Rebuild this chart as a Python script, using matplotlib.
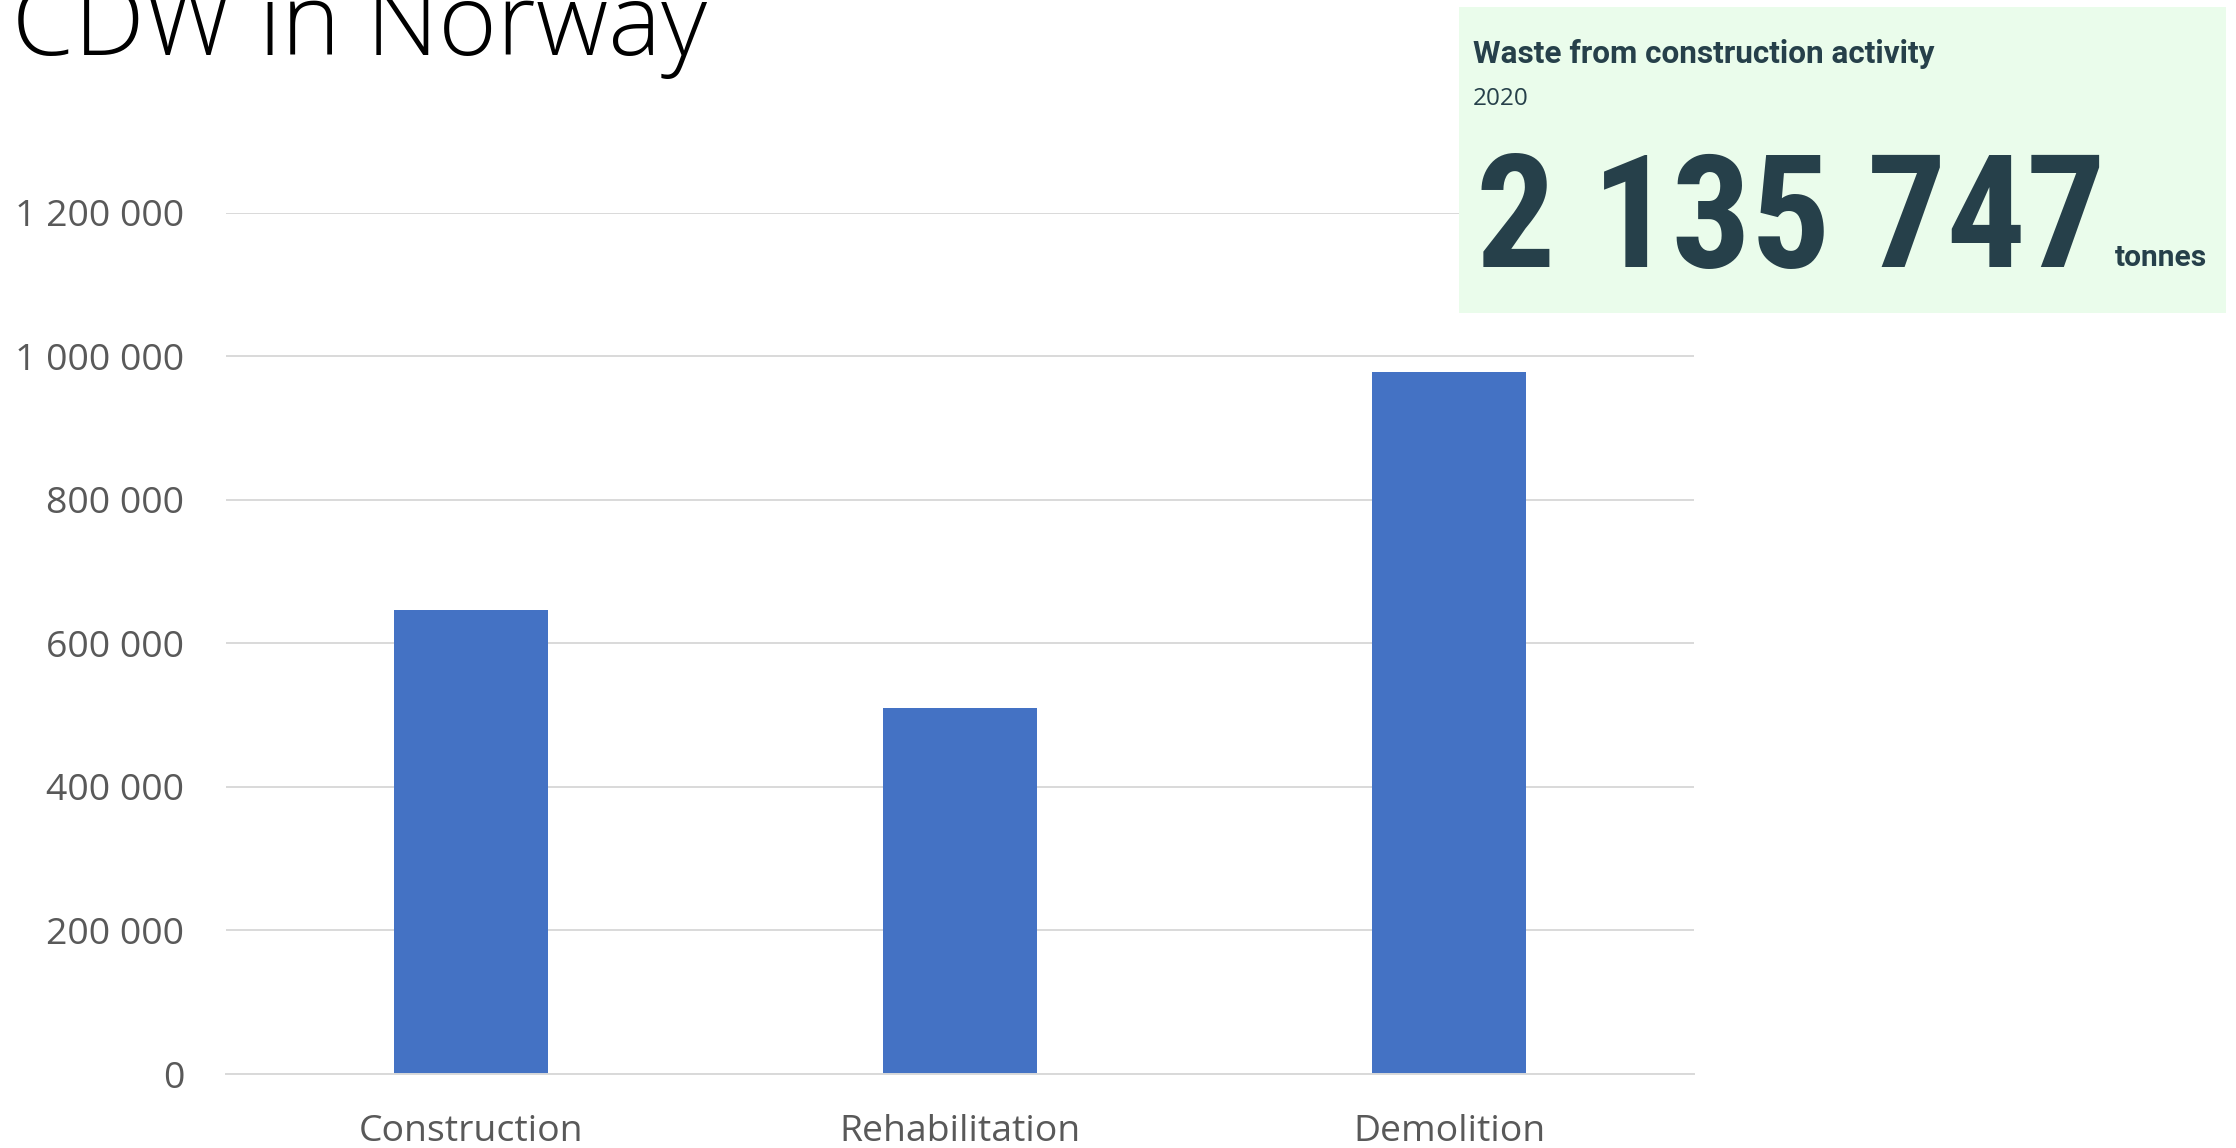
import matplotlib
matplotlib.use("Agg")
import matplotlib.pyplot as plt
from matplotlib import font_manager
from matplotlib.font_manager import FontProperties
from matplotlib.patches import Rectangle
from matplotlib.ticker import FuncFormatter

# data
categories = ["Construction", "Rehabilitation", "Demolition"]
waste_tonnes = [647000, 510500, 978247]
y_ticks = [0, 200000, 400000, 600000, 800000, 1000000, 1200000]
total_label = "2 135 747"
card_title = "Waste from construction activity"
card_year = "2020"

W, H = 2236, 1148
fig = plt.figure(figsize=(W / 100, H / 100), dpi=100)


def px(x, y):
    """pixel coords (from top left) -> figure fraction"""
    return x / W, 1 - y / H


def find_narrow_bold():
    # look for a condensed bold face, the big number in the card is narrow
    wanted = ["Roboto Condensed", "Liberation Sans Narrow", "DejaVu Sans Condensed"]
    for name in wanted:
        for f in font_manager.fontManager.ttflist:
            if (f.name == name or name.replace(" ", "") in f.fname.replace("-", "")) and f.weight in (700, "bold"):
                return FontProperties(fname=f.fname)
    for f in font_manager.fontManager.ttflist:
        low = f.fname.lower()
        if ("condensed" in low or "narrow" in low) and "bold" in low and "italic" not in low \
                and "oblique" not in low and "semi" not in low and "extra" not in low:
            return FontProperties(fname=f.fname)
    return None


# plot area in pixels
left, right, top, bottom = 226, 1694, 212.7, 1074
ax = fig.add_axes([left / W, (H - bottom) / H, (right - left) / W, (bottom - top) / H])

ax.bar(range(len(categories)), waste_tonnes, width=0.315, color="#4472C4", zorder=2)
ax.set_xlim(-0.5, len(categories) - 0.5)
ax.set_ylim(0, 1200000)
ax.set_yticks(y_ticks)
ax.yaxis.set_major_formatter(FuncFormatter(lambda v, p: "{:,.0f}".format(v).replace(",", " ")))
ax.set_xticks(range(len(categories)))
ax.set_xticklabels(categories)

ax.grid(axis="y", color="#D9D9D9", linewidth=1.4, zorder=0)
for s in ["top", "right", "left"]:
    ax.spines[s].set_visible(False)
ax.spines["bottom"].set_color("#D9D9D9")
ax.spines["bottom"].set_linewidth(1.4)
ax.tick_params(axis="both", length=0, labelsize=26.9, labelcolor="#595959")
ax.tick_params(axis="y", pad=30)
ax.tick_params(axis="x", pad=29)
for lbl in ax.get_xticklabels() + ax.get_yticklabels():
    lbl.set_fontfamily("Open Sans")

# slide title, cut off at the top left like the reference
fig.text(*px(707, 55), "CDW in Norway", ha="right", va="baseline",
         fontsize=72, fontfamily="Open Sans", fontweight="light", color="black")

# statistics card
x0, y0 = px(1459, 313)
x1, y1 = px(2226, 7)
card = Rectangle((x0, y0), x1 - x0, y1 - y0, transform=fig.transFigure,
                 facecolor="#EAFCEB", edgecolor="none", zorder=5)
fig.add_artist(card)

ink = "#26404A"
fig.text(*px(1473, 63), card_title, ha="left", va="baseline", fontsize=22.7,
         fontfamily="Roboto", fontweight="bold", color=ink, zorder=6)
fig.text(*px(1473, 105), card_year, ha="left", va="baseline", fontsize=17.5,
         fontfamily="Open Sans", color=ink, zorder=6)

narrow = find_narrow_bold()
if narrow is not None:
    big = fig.text(*px(1476, 267), total_label, ha="left", va="baseline", fontproperties=narrow,
                   color=ink, zorder=6)
    big.set_fontsize(116)
else:
    big = fig.text(*px(1476, 267), total_label, ha="left", va="baseline", fontsize=101,
                   fontfamily="Roboto", fontweight="bold", color=ink, zorder=6)

# keep the number inside its slot (ends just before "tonnes")
fig.canvas.draw()
bb = big.get_window_extent()
if bb.width > 630:
    big.set_fontsize(big.get_fontsize() * 630 / bb.width)

fig.text(*px(2115, 266), "tonnes", ha="left", va="baseline", fontsize=21.5,
         fontfamily="Roboto", fontweight="bold", color=ink, zorder=6)

fig.savefig("out.png", dpi=100)
